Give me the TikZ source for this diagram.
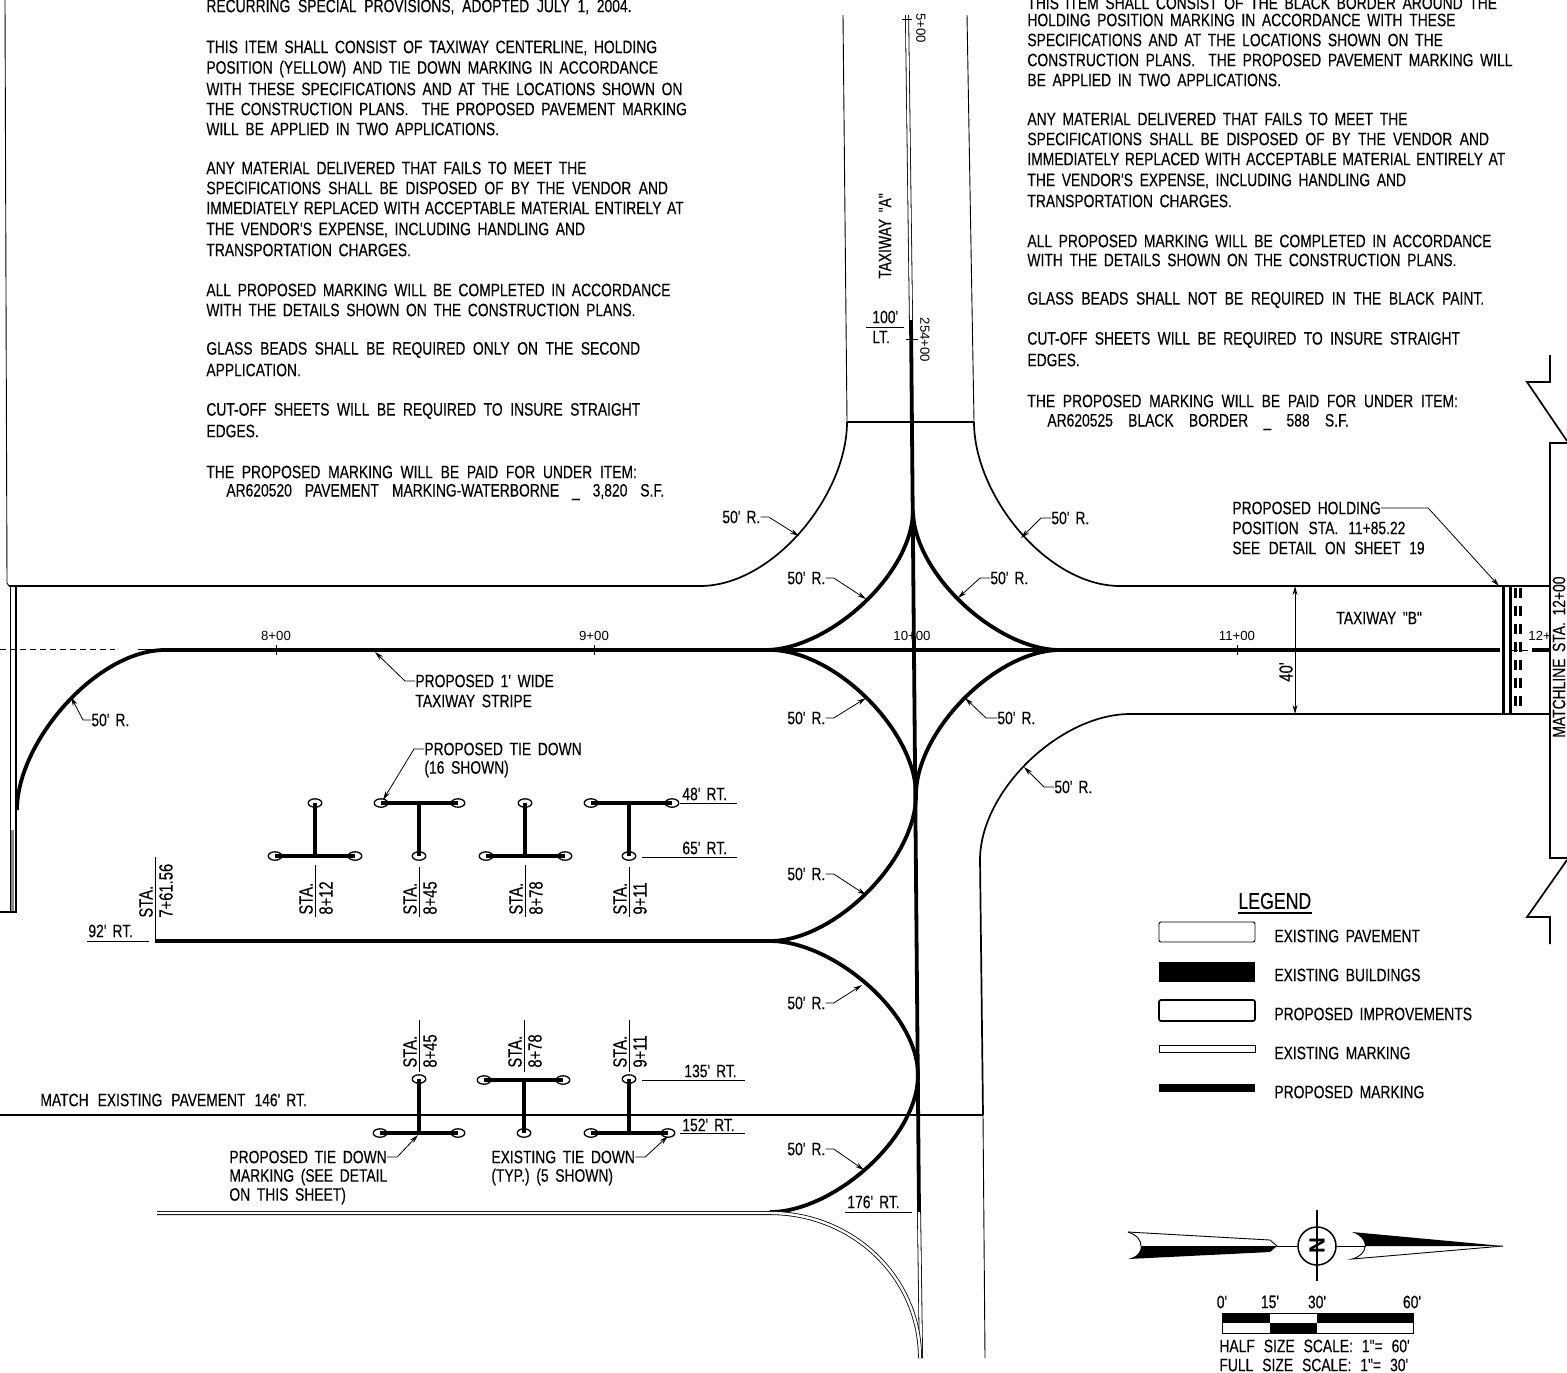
\documentclass[tikz,border=0pt]{standalone}
\usepackage{fontspec}
\usetikzlibrary{arrows.meta}
\newfontfamily\cad[FakeStretch=0.77,FakeBold=0.25]{Liberation Sans}
\newfontfamily\cadn{Liberation Sans}
\newcommand\cadfont{\cad\fontsize{9}{11}\selectfont\spaceskip=0.37em\xspaceskip=0.37em\relax}
\newcommand\stafont{\cad\fontsize{9.6}{11}\selectfont\spaceskip=0.4em\relax}
\newcommand\tinyfont{\cadn\fontsize{6.6}{8}\selectfont}
\newcommand\legfont{\cad\fontsize{11.5}{13}\selectfont}
\newcommand\nfont{\cadn\bfseries\fontsize{11}{11}\selectfont}
\newcommand\wide[2]{{\spaceskip=#1em\xspaceskip=#1em\relax #2}}
\newcommand\gp{\hspace{3pt}}
\newcommand\tline[4]{\node[txt] (#1) at (#2,#3) {#4};}
\newcommand\staup[6]{% name, rule x, rule top, rule bottom, text bottom, station
  \coordinate (#1a) at (#2,#3); \coordinate (#1b) at (#2,#4);
  \draw[thin1] (#1a) -- (#1b);
  \node[sta] (#1s) at (#2-9,#5) {STA.};
  \node[sta] (#1n) at (#2+11,#5) {#6};}
\tikzset{
  txt/.style={anchor=west,inner sep=0pt,font=\cadfont,text=black},
  sta/.style={anchor=west,rotate=90,inner sep=0pt,font=\stafont,text=black},
  tiny/.style={anchor=center,inner sep=0pt,font=\tinyfont,text=black},
  thin1/.style={line width=0.45pt,black},
  edge1/.style={line width=0.85pt,black},
  edge2/.style={line width=1.1pt,black},
  mark1/.style={line width=1.9pt,black},
  dbl/.style={line width=0.4pt,black,double=white,double distance=1.2pt},
  leader/.style={line width=0.4pt,black,-{Stealth[length=4.5pt,width=2.4pt]}},
  tie/.style={line width=1.6pt,black},
  hole/.style={line width=0.65pt,black,fill=white},
  fil/.style={looseness=0.85},
  dia/.style={looseness=0.8},
}
\newcommand\hl[2]{\draw[hole] (#1,#2) ellipse (3.4pt and 2.1pt);}
\begin{document}
\begin{tikzpicture}[x=0.5pt,y=-0.5pt]
\useasboundingbox (0,0) rectangle (1567,1372);
\fill[white] (0,0) rectangle (1567,1372);

%% pavement edges
\draw[thin1] (5,0) -- (7,583) -- (9,586);
\draw[edge1] (9,586) -- (700,586) to[out=0,in=-90,fil] (847,422);
\draw[edge1] (847,422) -- (974,422);
\draw[thin1] (843,15) -- (847,422);
\draw[thin1] (967,15) -- (974,422);
\draw[edge1] (974,422) to[out=-90,in=180,fil] (1120,586) -- (1550,586);
\draw[edge1] (1550,714) -- (1130,714) to[out=180,in=90,fil] (980,860) -- (983,1115);
\draw[edge1] (0,1115) -- (983,1115);
\draw[thin1] (983,1115) -- (985,1358);

%% left end
\fill[black!45] (10,830) rectangle (14,912);
\draw[thin1] (10,586) -- (10,912);
\draw[edge2] (16,586) -- (16,912) -- (0,912);

%% centre lines
\draw[thin1,densely dashed] (0,649) -- (115,649);
\draw[thin1] (138,649) -- (165,649);
\draw[mark1] (165,650) -- (1500,650);
\draw[thin1,densely dashed] (1512,650) -- (1532,650);
\draw[mark1] (1532,650) -- (1550,650);
\draw[dbl] (907,15) -- (911,320);
\draw[mark1] (911,320) -- (919,1212);
\draw[dbl] (919,1212) -- (921,1358);

%% station ticks
\draw[thin1] (276,645) -- (276,655);
\draw[thin1] (594,645) -- (594,655);
\draw[thin1] (1237,645) -- (1237,655);
\draw[thin1] (902,19) -- (912,19);
\draw[thin1] (906,339) -- (918,339);

%% proposed marking arcs
\draw[mark1] (165,650) to[out=180,in=90,dia] (17,810);
\draw[mark1] (765,650) to[out=0,in=-90,dia] (913,510);
\draw[mark1] (1060,650) to[out=180,in=-90,dia] (913,510);
\draw[mark1] (770,650) to[out=0,in=90,dia] (916,795);
\draw[mark1] (1060,650) to[out=180,in=90,dia] (916,795);
\draw[mark1] (155,941) -- (770,941);
\draw[mark1] (770,941) to[out=0,in=-90,dia] (916,795);
\draw[mark1] (770,941) to[out=0,in=90,dia] (918,1075);
\draw[mark1] (770,1212) to[out=0,in=-90,dia] (918,1075);
\draw[dbl] (157,1213) -- (770,1213) to[out=0,in=90] (920,1358);

%% holding position
\fill[black] (1502,586) rectangle (1505,714);
\fill[black] (1509,586) rectangle (1512,714);
\foreach \yy in {588,606,624,642,660,678,696}{
  \fill[black] (1514,\yy) rectangle (1517,\yy+10);
  \fill[black] (1519,\yy) rectangle (1522,\yy+10);
}

%% matchline
\draw[edge1] (1550,355) -- (1550,382) -- (1527,382) -- (1567,441);
\draw[edge1] (1567,443) -- (1550,443) -- (1550,858) -- (1567,858);
\draw[edge1] (1550,944) -- (1550,917) -- (1527,917) -- (1567,860);
\node[txt,rotate=90] (match) at (1559,738) {MATCHLINE STA. 12+00};
\node[tiny,anchor=west] (st12) at (1528,636) {12+};

%% left notes
\tline{la0}{206}{7}{\wide{0.43}{RECURRING SPECIAL PROVISIONS, ADOPTED JULY 1, 2004.}}
\tline{la1}{206}{48}{THIS ITEM SHALL CONSIST OF TAXIWAY CENTERLINE, HOLDING}
\tline{la2}{206}{69}{POSITION (YELLOW) AND TIE DOWN MARKING IN ACCORDANCE}
\tline{la3}{206}{89}{WITH THESE SPECIFICATIONS AND AT THE LOCATIONS SHOWN ON}
\tline{la4}{206}{109}{THE CONSTRUCTION PLANS.\ \ THE PROPOSED PAVEMENT MARKING}
\tline{la5}{206}{129}{WILL BE APPLIED IN TWO APPLICATIONS.}
\tline{lb1}{206}{168}{ANY MATERIAL DELIVERED THAT FAILS TO MEET THE}
\tline{lb2}{206}{188}{\wide{0.41}{SPECIFICATIONS SHALL BE DISPOSED OF BY THE VENDOR AND}}
\tline{lb3}{206}{208}{\wide{0.305}{IMMEDIATELY REPLACED WITH ACCEPTABLE MATERIAL ENTIRELY AT}}
\tline{lb4}{206}{230}{THE VENDOR'S EXPENSE, INCLUDING HANDLING AND}
\tline{lb5}{206}{250}{TRANSPORTATION CHARGES.}
\tline{lc1}{206}{290}{ALL PROPOSED MARKING WILL BE COMPLETED IN ACCORDANCE}
\tline{lc2}{206}{310}{WITH THE DETAILS SHOWN ON THE CONSTRUCTION PLANS.}
\tline{ld1}{206}{350}{\wide{0.42}{GLASS BEADS SHALL BE REQUIRED ONLY ON THE SECOND}}
\tline{ld2}{206}{370}{APPLICATION.}
\tline{le1}{206}{411}{\wide{0.42}{CUT-OFF SHEETS WILL BE REQUIRED TO INSURE STRAIGHT}}
\tline{le2}{206}{431}{EDGES.}
\tline{lf1}{206}{472}{\wide{0.43}{THE PROPOSED MARKING WILL BE PAID FOR UNDER ITEM:}}
\tline{lf2}{226}{492}{\wide{0.72}{AR620520 PAVEMENT MARKING-WATERBORNE \_ 3,820 S.F.}}

%% right notes
\tline{ra1}{1027}{3}{THIS ITEM SHALL CONSIST OF THE BLACK BORDER AROUND THE}
\tline{ra2}{1027}{20}{HOLDING POSITION MARKING IN ACCORDANCE WITH THESE}
\tline{ra3}{1027}{40}{SPECIFICATIONS AND AT THE LOCATIONS SHOWN ON THE}
\tline{ra4}{1027}{60}{CONSTRUCTION PLANS.\ \ THE PROPOSED PAVEMENT MARKING WILL}
\tline{ra5}{1027}{80}{BE APPLIED IN TWO APPLICATIONS.}
\tline{rb1}{1027}{119}{ANY MATERIAL DELIVERED THAT FAILS TO MEET THE}
\tline{rb2}{1027}{139}{\wide{0.41}{SPECIFICATIONS SHALL BE DISPOSED OF BY THE VENDOR AND}}
\tline{rb3}{1027}{159}{\wide{0.31}{IMMEDIATELY REPLACED WITH ACCEPTABLE MATERIAL ENTIRELY AT}}
\tline{rb4}{1027}{181}{THE VENDOR'S EXPENSE, INCLUDING HANDLING AND}
\tline{rb5}{1027}{201}{TRANSPORTATION CHARGES.}
\tline{rc1}{1027}{241}{ALL PROPOSED MARKING WILL BE COMPLETED IN ACCORDANCE}
\tline{rc2}{1027}{260}{WITH THE DETAILS SHOWN ON THE CONSTRUCTION PLANS.}
\tline{rd1}{1027}{300}{\wide{0.43}{GLASS BEADS SHALL NOT BE REQUIRED IN THE BLACK PAINT.}}
\tline{re1}{1027}{340}{\wide{0.41}{CUT-OFF SHEETS WILL BE REQUIRED TO INSURE STRAIGHT}}
\tline{re2}{1027}{360}{EDGES.}
\tline{rf1}{1027}{401}{\wide{0.43}{THE PROPOSED MARKING WILL BE PAID FOR UNDER ITEM:}}
\tline{rf2}{1047}{422}{\wide{0.85}{AR620525 BLACK BORDER \_ 588 S.F.}}

%% station labels
\node[tiny] (s8) at (276,636) {8+00};
\node[tiny] (s9) at (594,636) {9+00};
\node[tiny] (s10) at (912,636) {10+00};
\node[tiny] (s11) at (1237,636) {11+00};
\node[tiny,rotate=-90] (s254) at (925,340) {254+00};
\node[tiny,rotate=-90] (s255) at (921,28) {5+00};

%% taxiway A / B labels
\node[txt,anchor=center,rotate=90] (twa) at (885,236) {TAXIWAY "A"};
\tline{twb}{1336}{618}{TAXIWAY "B"}
\tline{d100}{872}{317}{100'}
\tline{lt}{872}{337}{LT.}
\draw[thin1] (866,327) -- (904,327);

%% 40' dimension
\coordinate (d40a) at (1295,586);
\coordinate (d40b) at (1295,714);
\draw[thin1,{Stealth[length=4.5pt,width=2.4pt]}-{Stealth[length=4.5pt,width=2.4pt]}] (d40a) -- (d40b);
\node[sta,anchor=center] (d40) at (1286,672) {40'};

%% 50' R. call-outs
\tline{r1}{722}{517}{50'\gp R.}   \coordinate (t1) at (799,536);
\draw[leader] (r1.east) -- ++(8,0) -- (t1);
\tline{r2}{787}{578}{50'\gp R.}   \coordinate (t2) at (866,599);
\draw[leader] (r2.east) -- ++(8,0) -- (t2);
\tline{r3}{990}{578}{50'\gp R.}   \coordinate (t3) at (958,598);
\draw[leader] (r3.west) -- ++(-10,0) -- (t3);
\tline{r4}{1051}{518}{50'\gp R.}  \coordinate (t4) at (1021,538);
\draw[leader] (r4.west) -- ++(-10,0) -- (t4);
\tline{r5}{787}{718}{50'\gp R.}   \coordinate (t5) at (866,698);
\draw[leader] (r5.east) -- ++(8,0) -- (t5);
\tline{r6}{997}{718}{50'\gp R.}   \coordinate (t6) at (965,698);
\draw[leader] (r6.west) -- ++(-11,0) -- (t6);
\tline{r7}{1054}{787}{50'\gp R.}  \coordinate (t7) at (1024,767);
\draw[leader] (r7.west) -- ++(-10,0) -- (t7);
\tline{r8}{787}{874}{50'\gp R.}   \coordinate (t8) at (866,895);
\draw[leader] (r8.east) -- ++(8,0) -- (t8);
\tline{r9}{787}{1003}{50'\gp R.}  \coordinate (t9) at (862,985);
\draw[leader] (r9.east) -- ++(8,0) -- (t9);
\tline{r10}{787}{1149}{50'\gp R.} \coordinate (t10) at (864,1170);
\draw[leader] (r10.east) -- ++(8,0) -- (t10);
\tline{r11}{91}{720}{50'\gp R.}   \coordinate (t11) at (71,697);
\draw[leader] (r11.west) -- ++(-8,0) -- (t11);

%% other call-outs
\tline{st1}{415}{681}{PROPOSED 1' WIDE}
\tline{st2}{415}{701}{TAXIWAY STRIPE}
\coordinate (tst) at (375,652);
\draw[leader] (st1.west) -- ++(-10,0) -- (tst);
\tline{ptd1}{424}{749}{PROPOSED TIE DOWN}
\tline{ptd2}{424}{769}{(16 SHOWN)}
\coordinate (tptd) at (383,800);
\draw[leader] (ptd1.west) -- ++(-10,0) -- (tptd);
\tline{hp1}{1232}{508}{PROPOSED HOLDING}
\tline{hp2}{1232}{528}{\wide{0.55}{POSITION STA. 11+85.22}}
\tline{hp3}{1232}{548}{\wide{0.48}{SEE DETAIL ON SHEET 19}}
\coordinate (thp) at (1499,586);
\draw[leader] (hp1.east) -- ++(47,0) -- (thp);
\tline{pm1}{229}{1157}{PROPOSED TIE DOWN}
\tline{pm2}{229}{1177}{MARKING (SEE DETAIL}
\tline{pm3}{229}{1196}{ON THIS SHEET)}
\coordinate (tpm) at (418,1135);
\draw[leader] (pm1.east) -- ++(10,0) -- (tpm);
\tline{et1}{491}{1157}{EXISTING TIE DOWN}
\tline{et2}{491}{1177}{(TYP.) (5 SHOWN)}
\coordinate (tet) at (668,1136);
\draw[leader] (et1.east) -- ++(10,0) -- (tet);

%% dimensions
\tline{m48}{682}{794}{48'\gp RT.}   \draw[thin1] (680,803) -- (737,803);
\tline{m65}{682}{848}{65'\gp RT.}   \draw[thin1] (642,857) -- (737,857);
\tline{m135}{684}{1071}{135'\gp RT.} \draw[thin1] (642,1080) -- (745,1080);
\tline{m152}{682}{1125}{152'\gp RT.} \draw[thin1] (680,1133) -- (745,1133);
\tline{m176}{847}{1202}{176'\gp RT.} \draw[thin1] (845,1212) -- (912,1212);
\tline{m92}{88}{931}{92'\gp RT.}    \draw[thin1] (87,941) -- (149,941);
\tline{mex}{40}{1100}{\wide{0.5}{MATCH EXISTING PAVEMENT 146'\gp RT.}}

%% tie downs, row 1
\hl{315}{803}\hl{275}{856}\hl{355}{856}
\draw[tie] (315,803) -- (315,856); \draw[tie] (275,856) -- (355,856);
\hl{381}{803}\hl{458}{803}\hl{419}{856}
\draw[tie] (381,803) -- (458,803); \draw[tie] (419,803) -- (419,856);
\hl{525}{803}\hl{486}{856}\hl{565}{856}
\draw[tie] (525,803) -- (525,856); \draw[tie] (486,856) -- (565,856);
\hl{591}{803}\hl{672}{803}\hl{629}{856}
\draw[tie] (591,803) -- (672,803); \draw[tie] (629,803) -- (629,856);
%% tie downs, row 2
\hl{419}{1079}\hl{380}{1133}\hl{458}{1133}
\draw[tie] (419,1079) -- (419,1133); \draw[tie] (380,1133) -- (458,1133);
\hl{484}{1080}\hl{563}{1080}\hl{524}{1133}
\draw[tie] (484,1080) -- (563,1080); \draw[tie] (524,1080) -- (524,1133);
\hl{629}{1079}\hl{591}{1133}\hl{668}{1133}
\draw[tie] (629,1079) -- (629,1133); \draw[tie] (591,1133) -- (668,1133);

%% station call-outs
\staup{a}{315}{865}{917}{915}{8+12}
\staup{b}{419}{867}{917}{915}{8+45}
\staup{c}{525}{865}{917}{915}{8+78}
\staup{d}{629}{867}{917}{915}{9+11}
\staup{e}{419}{1020}{1072}{1068}{8+45}
\staup{f}{524}{1020}{1072}{1068}{8+78}
\staup{g}{629}{1020}{1072}{1068}{9+11}
\staup{h}{155}{857}{941}{918}{7+61.56}

%% legend
\node[txt,font=\legfont] (leg) at (1238,901) {LEGEND};
\draw[edge1] (1238,913) -- (1312,913);
\draw[thin1,rounded corners=1pt] (1159,922) rectangle (1255,942);
\fill[black] (1159,962) rectangle (1255,982);
\draw[edge1,rounded corners=1pt] (1159,1000) rectangle (1255,1021);
\draw[thin1] (1159,1045) rectangle (1255,1052);
\fill[black] (1159,1084) rectangle (1255,1092);
\tline{lg1}{1274}{936}{EXISTING PAVEMENT}
\tline{lg2}{1274}{975}{EXISTING BUILDINGS}
\tline{lg3}{1274}{1014}{PROPOSED IMPROVEMENTS}
\tline{lg4}{1274}{1053}{EXISTING MARKING}
\tline{lg5}{1274}{1092}{PROPOSED MARKING}

%% north arrow
\node[circle,draw=black,line width=0.75pt,minimum size=19pt,inner sep=0pt,font=\nfont,text=black,rotate=90] (north) at (1317,1246) {N};
\coordinate (nt) at (1317,1210); \coordinate (nb) at (1317,1281);
\coordinate (nl) at (1277,1246); \coordinate (nr) at (1366,1246);
\draw[edge1] (north.west) -- (nt);
\draw[edge1] (north.east) -- (nb);
\draw[thin1] (north.north) -- (nl);
\draw[thin1] (north.south) -- (nr);
% left half of the arrow
\fill[black] (1141,1246) -- (1277,1246) -- (1270,1252) -- (1128,1259) .. controls (1137,1257) and (1141,1252) .. (1141,1246);
\draw[thin1] (1128,1232) .. controls (1137,1235) and (1141,1240) .. (1141,1246);
\draw[thin1] (1128,1232) -- (1270,1240) -- (1277,1246);
% right half of the arrow
\fill[black] (1352,1232) .. controls (1360,1235) and (1365,1240) .. (1365,1246) -- (1503,1246) -- cycle;
\draw[thin1] (1365,1246) .. controls (1365,1252) and (1360,1257) .. (1352,1259) -- (1503,1246);

%% scale bar
\fill[black] (1222,1313) rectangle (1270,1323);
\fill[black] (1270,1323) rectangle (1317,1333);
\fill[black] (1317,1313) rectangle (1413,1323);
\draw[thin1] (1222,1313) rectangle (1413,1333);
\node[txt,anchor=center] (sc0) at (1222,1302) {0'};
\node[txt,anchor=center] (sc15) at (1270,1302) {15'};
\node[txt,anchor=center] (sc30) at (1317,1302) {30'};
\node[txt,anchor=center] (sc60) at (1412,1302) {60'};
\tline{half}{1219}{1346}{\wide{0.5}{HALF SIZE SCALE: 1"= 60'}}
\tline{full}{1219}{1365}{\wide{0.5}{FULL SIZE SCALE: 1"= 30'}}
\end{tikzpicture}
\end{document}
